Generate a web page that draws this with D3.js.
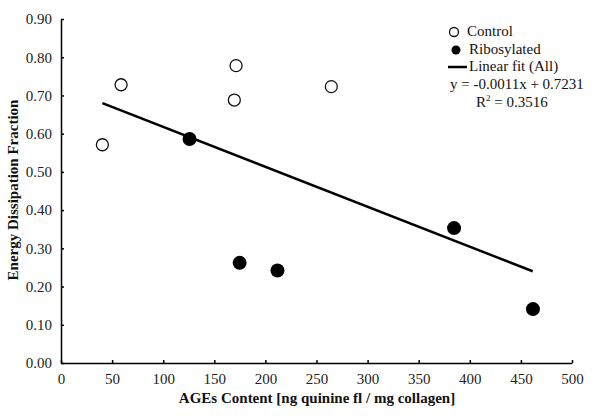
<!DOCTYPE html>
<html>
<head>
<meta charset="utf-8">
<script src="https://cdn.jsdelivr.net/npm/d3@7"></script>
<style>
  body { margin: 0; background: #fff; }
  svg { display: block; font-family: "Liberation Serif", "Times New Roman", serif; }
  .axis path, .axis line { stroke: #000; stroke-width: 1.5; }
  .axis text { font-size: 15px; fill: #222; font-family: "Liberation Serif", serif; }
  .title { font-size: 15px; font-weight: bold; fill: #111; }
  .legend text { font-size: 15px; fill: #111; }
</style>
</head>
<body>
<svg id="chart" width="600" height="420"></svg>
<script>
// values
const controlX = [40.5, 58.8, 169.6, 171.3, 264.5];
const controlY = [0.571, 0.728, 0.688, 0.778, 0.723];
const riboX = [125.8, 174.8, 211.8, 384.6, 461.8];
const riboY = [0.586, 0.262, 0.242, 0.353, 0.141];
const fitX = [40.5, 461.5];
const fitY = [0.680, 0.240];
const xTicks = [0, 50, 100, 150, 200, 250, 300, 350, 400, 450, 500];
const yTicks = [0, 0.1, 0.2, 0.3, 0.4, 0.5, 0.6, 0.7, 0.8, 0.9];
const legendLabels = ['Control', 'Ribosylated', 'Linear fit (All)'];
const fitLabel = 'y = -0.0011x + 0.7231';
const r2Value = '0.3516';

const svg = d3.select('#chart');
const plotLeft = 61, plotRight = 572, plotTop = 19, plotBottom = 363;

const x = d3.scaleLinear().domain([0, 500]).range([plotLeft, plotRight]);
const y = d3.scaleLinear().domain([0, 0.9]).range([plotBottom, plotTop]);

svg.append('g')
  .attr('class', 'axis')
  .attr('transform', `translate(0,${plotBottom})`)
  .call(d3.axisBottom(x).tickValues(xTicks).tickSizeInner(-3).tickSizeOuter(0).tickPadding(8))
  .call(g => g.selectAll('text').attr('dy', '0.85em'));

svg.append('g')
  .attr('class', 'axis')
  .attr('transform', `translate(${plotLeft},0)`)
  .call(d3.axisLeft(y).tickValues(yTicks).tickFormat(d3.format('.2f')).tickSizeInner(-3).tickSizeOuter(0).tickPadding(9));

svg.append('text')
  .attr('class', 'title')
  .attr('x', 317)
  .attr('y', 403)
  .attr('text-anchor', 'middle')
  .text('AGEs Content [ng quinine fl / mg collagen]');

svg.append('text')
  .attr('class', 'title')
  .attr('transform', 'translate(18,190) rotate(-90)')
  .attr('text-anchor', 'middle')
  .text('Energy Dissipation Fraction');

// fit line
svg.append('path')
  .datum(d3.zip(fitX, fitY))
  .attr('d', d3.line().x(d => x(d[0])).y(d => y(d[1])))
  .attr('stroke', '#000')
  .attr('stroke-width', 2.5)
  .attr('fill', 'none');

svg.append('g').selectAll('circle')
  .data(d3.zip(controlX, controlY))
  .join('circle')
  .attr('cx', d => x(d[0]))
  .attr('cy', d => y(d[1]))
  .attr('r', 6)
  .attr('fill', '#fff')
  .attr('stroke', '#111')
  .attr('stroke-width', 1.3);

svg.append('g').selectAll('circle')
  .data(d3.zip(riboX, riboY))
  .join('circle')
  .attr('cx', d => x(d[0]))
  .attr('cy', d => y(d[1]))
  .attr('r', 7)
  .attr('fill', '#000');

// legend
const legend = svg.append('g').attr('class', 'legend');
legend.append('circle').attr('cx', 454).attr('cy', 32).attr('r', 4.5)
  .attr('fill', '#fff').attr('stroke', '#111').attr('stroke-width', 1.3);
legend.append('circle').attr('cx', 456).attr('cy', 50).attr('r', 4.5).attr('fill', '#000');
legend.append('line').attr('x1', 448).attr('x2', 467).attr('y1', 67).attr('y2', 67)
  .attr('stroke', '#000').attr('stroke-width', 2.5);

legendLabels.forEach((t, i) => {
  legend.append('text')
    .attr('x', i === 0 ? 467 : 469)
    .attr('y', 36 + i * 17.5)
    .text(t);
});
legend.append('text').attr('x', 450).attr('y', 89).text(fitLabel);
const r2 = legend.append('text').attr('x', 476).attr('y', 107);
r2.append('tspan').text('R');
r2.append('tspan').attr('font-size', '9px').attr('dy', '-6').text('2');
r2.append('tspan').attr('dy', '6').text(' = ' + r2Value);
</script>
</body>
</html>
